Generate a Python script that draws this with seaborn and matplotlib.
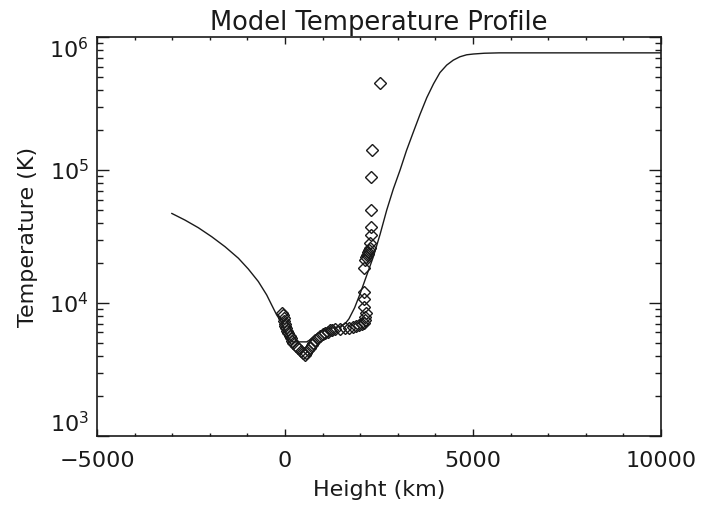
import matplotlib
matplotlib.use('Agg')
import matplotlib.pyplot as plt
import numpy as np
import pandas as pd
import seaborn as sns
from matplotlib.ticker import MultipleLocator, LogLocator, NullFormatter

# model temperature profile (solid line)
model_height = [-3015, -2660, -2305, -1950, -1596, -1240, -976, -710, -488, -355, -222,
                -100, -30, 50, 130, 200, 400, 575, 650, 750, 850, 1000, 1150, 1300, 1450,
                1600, 1700, 1850, 2000, 2150, 2350, 2530, 2705, 2880, 3060, 3230, 3410,
                3590, 3770, 3950, 4120, 4300, 4475, 4650, 4830, 5010, 5300, 5700, 10000]
model_temp = [4.72e4, 4.2e4, 3.68e4, 3.15e4, 2.65e4, 2.17e4, 1.8e4, 1.45e4, 1.15e4, 9.66e3, 8.13e3,
              7.2e3, 6.5e3, 5.8e3, 5.3e3, 5.1e3, 5.1e3, 5.1e3, 5.25e3, 5.55e3, 5.85e3, 6.2e3,
              6.4e3, 6.5e3, 6.65e3, 7.0e3, 7.6e3, 9.2e3, 1.18e4, 1.55e4, 2.23e4, 3.3e4, 5.0e4,
              7.2e4, 1.0e5, 1.4e5, 1.92e5, 2.62e5, 3.5e5, 4.45e5, 5.4e5, 6.15e5, 6.7e5, 7.1e5,
              7.35e5, 7.45e5, 7.55e5, 7.6e5, 7.6e5]

# observed / tabulated points (diamonds)
obs_height = [2527, 2305, 2287, 2277, 2275, 2275, 2270, 2250, 2235, 2215, 2200, 2185, 2165,
              2128, 2100, 2110, 2110, 2105, 2150, 2140, 2130, 2100, 2050, 1980, 1900, 1818,
              1700, 1600, 1463, 1330, 1250, 1197, 1130, 1064, 1000, 932, 870, 799, 750, 710,
              660, 620, 570, 532, 488, 420, 355, 290, 222, 180, 151, 120, 89, 55, 27, 10, 0,
              -20, -40, -62, -80]
obs_temp = [4.49e5, 1.41e5, 8.9e4, 5.0e4, 3.75e4, 3.25e4, 2.84e4, 2.6e4, 2.5e4, 2.43e4, 2.35e4,
            2.28e4, 2.22e4, 2.1e4, 1.82e4, 1.22e4, 1.07e4, 9.4e3, 8.4e3, 7.9e3, 7.5e3, 7.1e3,
            6.95e3, 6.8e3, 6.7e3, 6.6e3, 6.5e3, 6.46e3, 6.38e3, 6.38e3, 6.3e3, 6.27e3, 6.1e3,
            5.98e3, 5.85e3, 5.65e3, 5.45e3, 5.27e3, 5.0e3, 4.83e3, 4.6e3, 4.43e3, 4.2e3, 4.06e3,
            4.19e3, 4.35e3, 4.56e3, 4.75e3, 4.98e3, 5.2e3, 5.43e3, 5.65e3, 5.9e3, 6.15e3,
            6.45e3, 6.7e3, 7.0e3, 7.3e3, 7.67e3, 8.1e3, 8.45e3]

y_ticks = [1e3, 1e4, 1e5, 1e6]
y_ticklabels = ['$10^{3}$', '$10^{4}$', '$10^{5}$', '$10^{6}$']
x_ticks = [-5000, 0, 5000, 10000]

INK = '#1a1a1a'

sns.set_theme(style='ticks')
plt.rcParams['font.family'] = ['DejaVu Sans']
plt.rcParams['mathtext.default'] = 'regular'
plt.rcParams['text.color'] = INK
plt.rcParams['axes.labelcolor'] = INK
plt.rcParams['xtick.color'] = INK
plt.rcParams['ytick.color'] = INK

model = pd.DataFrame({'height': model_height, 'temp': model_temp})
obs = pd.DataFrame({'height': obs_height, 'temp': obs_temp})

fig = plt.figure(figsize=(7.01, 5.14), dpi=100)
ax = fig.add_axes([0.1384, 0.1518, 0.8046, 0.7762])

sns.lineplot(data=model, x='height', y='temp', sort=False, estimator=None,
             color=INK, lw=1.0, ax=ax)
sns.lineplot(data=obs, x='height', y='temp', sort=False, estimator=None,
             linestyle='', marker='D', markersize=5.8, markerfacecolor='none',
             markeredgecolor=INK, markeredgewidth=1.0, ax=ax)

ax.set_yscale('log')
ax.set_xlim(-5000, 10000)
ax.set_ylim(1e3, 1e6)

ax.set_xticks(x_ticks)
ax.set_xticklabels([str(t).replace('-', '\u2212') for t in x_ticks])
ax.xaxis.set_minor_locator(MultipleLocator(1000))
ax.set_yticks(y_ticks)
ax.set_yticklabels(y_ticklabels)
ax.yaxis.set_minor_locator(LogLocator(base=10, subs=np.arange(2, 10)))
ax.yaxis.set_minor_formatter(NullFormatter())

ax.tick_params(axis='both', which='both', direction='in', top=True, right=True,
               labelsize=16, width=1.0)
ax.tick_params(axis='x', which='major', length=5, pad=11)
ax.tick_params(axis='x', which='minor', length=2.5)
ax.tick_params(axis='y', which='major', length=8.5, pad=6)
ax.tick_params(axis='y', which='minor', length=4.3)

labels = ax.get_yticklabels()
labels[0].set_va('bottom')
labels[-1].set_va('top')

for sp in ax.spines.values():
    sp.set_linewidth(1.2)
    sp.set_color(INK)

ax.set_xlabel('Height (km)', fontsize=16, labelpad=6)
ax.set_ylabel('Temperature (K)', fontsize=16, labelpad=8)
ax.set_title('Model Temperature Profile', fontsize=18.5, pad=5)

fig.savefig('out.png', dpi=100)
